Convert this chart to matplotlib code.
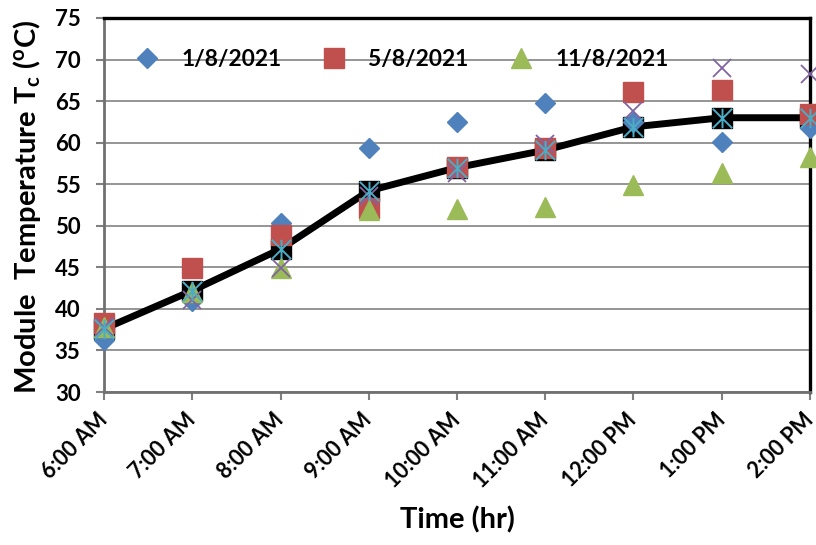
import matplotlib
matplotlib.use('Agg')
import matplotlib.pyplot as plt
from matplotlib.path import Path
import numpy as np

plt.rcParams['font.family'] = ['Lato', 'DejaVu Sans']
plt.rcParams['font.weight'] = 'bold'
plt.rcParams['mathtext.fontset'] = 'custom'
plt.rcParams['mathtext.rm'] = 'Lato:bold'
plt.rcParams['mathtext.it'] = 'Lato:bold'
plt.rcParams['mathtext.bf'] = 'Lato:bold'

# Hourly module temperature readings (deg C)
times = ['6:00 AM', '7:00 AM', '8:00 AM', '9:00 AM', '10:00 AM',
         '11:00 AM', '12:00 PM', '1:00 PM', '2:00 PM']
temp_1_8 = [36.3, 41.0, 50.3, 59.4, 62.5, 64.8, 62.5, 60.1, 61.8]
temp_5_8 = [38.3, 44.9, 48.9, 52.1, 57.1, 59.3, 66.1, 66.3, 63.5]
temp_11_8 = [37.8, 42.0, 44.9, 51.9, 52.0, 52.3, 54.9, 56.3, 58.3]
temp_day4 = [37.8, 41.1, 44.9, 53.6, 56.3, 59.8, 63.8, 69.0, 68.3]
temp_avg = [37.6, 42.2, 47.2, 54.2, 57.0, 59.1, 61.9, 63.0, 63.0]

x = np.arange(len(times))

# asterisk marker: vertical stroke plus two diagonals
star = Path([(0, -1), (0, 1), (-1, -1), (1, 1), (-1, 1), (1, -1)],
            [Path.MOVETO, Path.LINETO, Path.MOVETO, Path.LINETO,
             Path.MOVETO, Path.LINETO])

fig = plt.figure(figsize=(8.16, 5.45), dpi=100)
ax = fig.add_axes([0.1275, 0.2807, 0.8651, 0.6863])

ax.plot(x, temp_avg, color='black', linewidth=5, marker='s', markersize=14,
        markerfacecolor='black', markeredgecolor='black', zorder=3, clip_on=False)
ax.plot(x, temp_1_8, linestyle='none', marker='D', markersize=10.2,
        color='#4F81BD', label='1/8/2021', zorder=4, clip_on=False)
ax.plot(x, temp_5_8, linestyle='none', marker='s', markersize=14,
        color='#C0504D', label='5/8/2021', zorder=4, clip_on=False)
ax.plot(x, temp_11_8, linestyle='none', marker='^', markersize=14,
        color='#9BBB59', label='11/8/2021', zorder=4, clip_on=False)
ax.plot(x, temp_day4, linestyle='none', marker='x', markersize=13,
        markeredgewidth=1.3, color='#8064A2', zorder=5, clip_on=False)
ax.plot(x, temp_avg, linestyle='none', marker=star, markersize=14,
        markeredgewidth=1.4, color='#4BACC6', zorder=6, clip_on=False)

ax.set_xlim(0, 8)
ax.set_ylim(30, 75)
ax.set_yticks(np.arange(30, 80, 5))
ax.set_yticklabels([str(v) for v in range(30, 80, 5)], fontsize=16, fontweight='bold')
ax.set_xticks(x)
ax.set_xticklabels(times, rotation=45, ha='right', va='center',
                   rotation_mode='anchor', fontsize=15.5, fontweight='bold')
ax.tick_params(axis='y', length=6, width=1.5, color='#808080', pad=11)
ax.tick_params(axis='x', length=6, width=1.5, color='#808080', pad=12)

ax.grid(axis='y', color='#8c8c8c', linewidth=1.3)
ax.set_axisbelow(True)

for side in ['top', 'right']:
    ax.spines[side].set_color('black')
    ax.spines[side].set_linewidth(2.4)
for side in ['left', 'bottom']:
    ax.spines[side].set_color('#707070')
    ax.spines[side].set_linewidth(2)

ax.set_ylabel(r'Module  Temperature T$_\mathrm{c}$ ($^\mathrm{o}$C)',
              fontsize=21, fontweight='bold')
ax.yaxis.set_label_coords(-0.086, 0.495)
ax.set_xlabel('Time (hr)', fontsize=21, fontweight='bold')
ax.xaxis.set_label_coords(0.5, -0.305)

ax.legend(loc='center left', bbox_to_anchor=(0.045, 0.888), ncol=3,
          frameon=False, prop={'size': 16.4, 'weight': 'bold'},
          handlelength=1.0, handletextpad=0.99,
          columnspacing=1.82, borderaxespad=0, borderpad=0)

plt.savefig('out.png', dpi=100)
plt.close()
